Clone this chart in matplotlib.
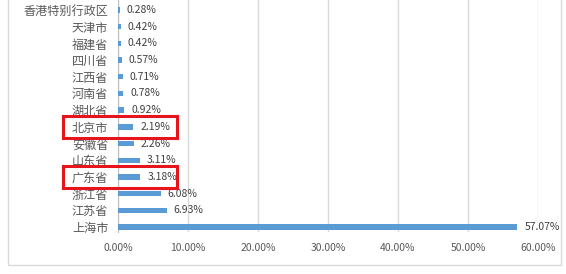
import matplotlib.pyplot as plt
from matplotlib.patches import Rectangle

plt.rcParams['font.family'] = ['Noto Sans CJK SC', 'DejaVu Sans']

# data, top to bottom as shown
regions = ['香港特别行政区', '天津市', '福建省', '四川省', '江西省', '河南省', '湖北省',
           '北京市', '安徽省', '山东省', '广东省', '浙江省', '江苏省', '上海市']
shares = [0.28, 0.42, 0.42, 0.57, 0.71, 0.78, 0.92,
          2.19, 2.26, 3.11, 3.18, 6.08, 6.93, 57.07]
highlight = ['北京市', '广东省']

# bottom to top for barh
labels = regions[::-1]
values = shares[::-1]

text_color = '#595959'
bar_color = '#5B9BD5'

fig = plt.figure(figsize=(5.66, 2.74), dpi=100)
ax = fig.add_axes([118 / 566, 1 - 232 / 274, 420 / 566, 232 / 274])

ypos = list(range(len(labels)))
ax.barh(ypos, values, height=0.32, color=bar_color, zorder=3)

for y, v in zip(ypos, values):
    ax.annotate(f'{v:.2f}%', (v, y), xytext=(5, 0), textcoords='offset points',
                va='center', ha='left', fontsize=7.5, color='#404040')

ax.set_xlim(0, 60)
ax.set_ylim(-0.3, 13.6)
ax.set_xticks(range(0, 61, 10))
ax.set_xticklabels([f'{t:.2f}%' for t in range(0, 61, 10)])
ax.set_yticks(ypos)
ax.set_yticklabels(labels)
ax.tick_params(axis='both', length=0, labelcolor=text_color)
ax.tick_params(axis='x', pad=8, labelsize=7.5)
ax.tick_params(axis='y', pad=7, labelsize=8.7)

ax.grid(axis='x', color='#d9d9d9', linewidth=1, zorder=0)
for s in ['top', 'right', 'bottom']:
    ax.spines[s].set_visible(False)
ax.spines['left'].set_color('#bfbfbf')

# outer chart border
W, H = 566, 274
fig.patches.append(Rectangle((8 / W, 1 - 265 / H), 553 / W, 275 / H,
                             transform=fig.transFigure, fill=False,
                             edgecolor='#d9d9d9', linewidth=1))

# red highlight boxes
for name in highlight:
    i = labels.index(name)
    yc = ax.transData.transform((0, i))[1]
    fig.patches.append(Rectangle((63 / W, (yc - 11) / H), 114 / W, 22 / H,
                                 transform=fig.transFigure, fill=False,
                                 edgecolor='#e8141c', linewidth=2.2, zorder=10))

fig.savefig('out.png', dpi=100)
